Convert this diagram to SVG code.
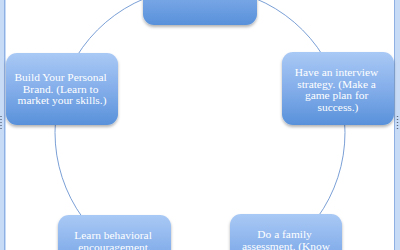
<svg xmlns="http://www.w3.org/2000/svg" width="400" height="250" viewBox="0 0 400 250">
  <defs>
    <linearGradient id="boxFill" x1="0" y1="0" x2="0" y2="1">
      <stop offset="0" stop-color="#a9c9f5"/>
      <stop offset="0.5" stop-color="#84aeea"/>
      <stop offset="1" stop-color="#5891da"/>
    </linearGradient>
    <filter id="softShadow" x="-10%" y="-10%" width="120%" height="130%">
      <feDropShadow dx="0" dy="2" stdDeviation="1.8" flood-color="#000" flood-opacity="0.3"/>
    </filter>
    <style>
      .box { fill: url(#boxFill); filter: url(#softShadow); }
      .label { font-family: "Liberation Serif", "Times New Roman", serif; font-size: 11.4px; fill: #ffffff; text-anchor: middle; }
      .link { fill: none; stroke: #7ba0d6; stroke-width: 1; }
      .band { fill: #c8dbf6; }
      .edge { stroke: #8fb0e2; stroke-width: 1; }
      .grip { stroke: #5a6a80; stroke-width: 1.4; stroke-dasharray: 1 2; }
    </style>
  </defs>

  <rect width="400" height="250" fill="#ffffff"/>

  <!-- window frame bands -->
  <rect class="band" x="0" y="0" width="6" height="250"/>
  <line class="edge" x1="4.5" y1="0" x2="4.5" y2="250"/>
  <rect class="band" x="394" y="0" width="6" height="250"/>
  <line class="edge" x1="394.5" y1="0" x2="394.5" y2="250"/>
  <line class="grip" x1="1" y1="116" x2="1" y2="131"/>
  <line class="grip" x1="397.5" y1="116" x2="397.5" y2="131"/>

  <!-- cycle connectors -->
  <g id="connectors">
    <path class="link" d="M200,-12.5 A145,145 0 0 1 337.9,87.7"/>
    <path class="link" d="M337.9,87.7 A145,145 0 0 1 285.2,249.8"/>
    <path class="link" d="M114.8,249.8 A145,145 0 0 1 62.1,87.7"/>
    <path class="link" d="M62.1,87.7 A145,145 0 0 1 200,-12.5"/>
  </g>

  <g id="node-top">
    <rect class="box" x="143" y="-48" width="114" height="73" rx="11"/>
  </g>

  <g id="node-interview">
    <rect class="box" x="282" y="52" width="112" height="73" rx="11"/>
    <text class="label">
      <tspan x="338" y="76">Have an interview</tspan>
      <tspan x="338" y="87.5">strategy. (Make a</tspan>
      <tspan x="338" y="99">game plan for</tspan>
      <tspan x="338" y="110.5">success.)</tspan>
    </text>
  </g>

  <g id="node-family">
    <rect class="box" x="230" y="214" width="112" height="73" rx="11"/>
    <text class="label">
      <tspan x="286" y="238">Do a family</tspan>
      <tspan x="286" y="249.5">assessment. (Know</tspan>
    </text>
  </g>

  <g id="node-behavioral">
    <rect class="box" x="58" y="215" width="113" height="73" rx="11"/>
    <text class="label">
      <tspan x="114.5" y="239">Learn behavioral</tspan>
      <tspan x="114.5" y="250.5">encouragement.</tspan>
    </text>
  </g>

  <g id="node-brand">
    <rect class="box" x="6" y="53" width="112" height="72" rx="11"/>
    <text class="label">
      <tspan x="62" y="81.2">Build Your Personal</tspan>
      <tspan x="62" y="92.7">Brand. (Learn to</tspan>
      <tspan x="62" y="104.2">market your skills.)</tspan>
    </text>
  </g>
</svg>
